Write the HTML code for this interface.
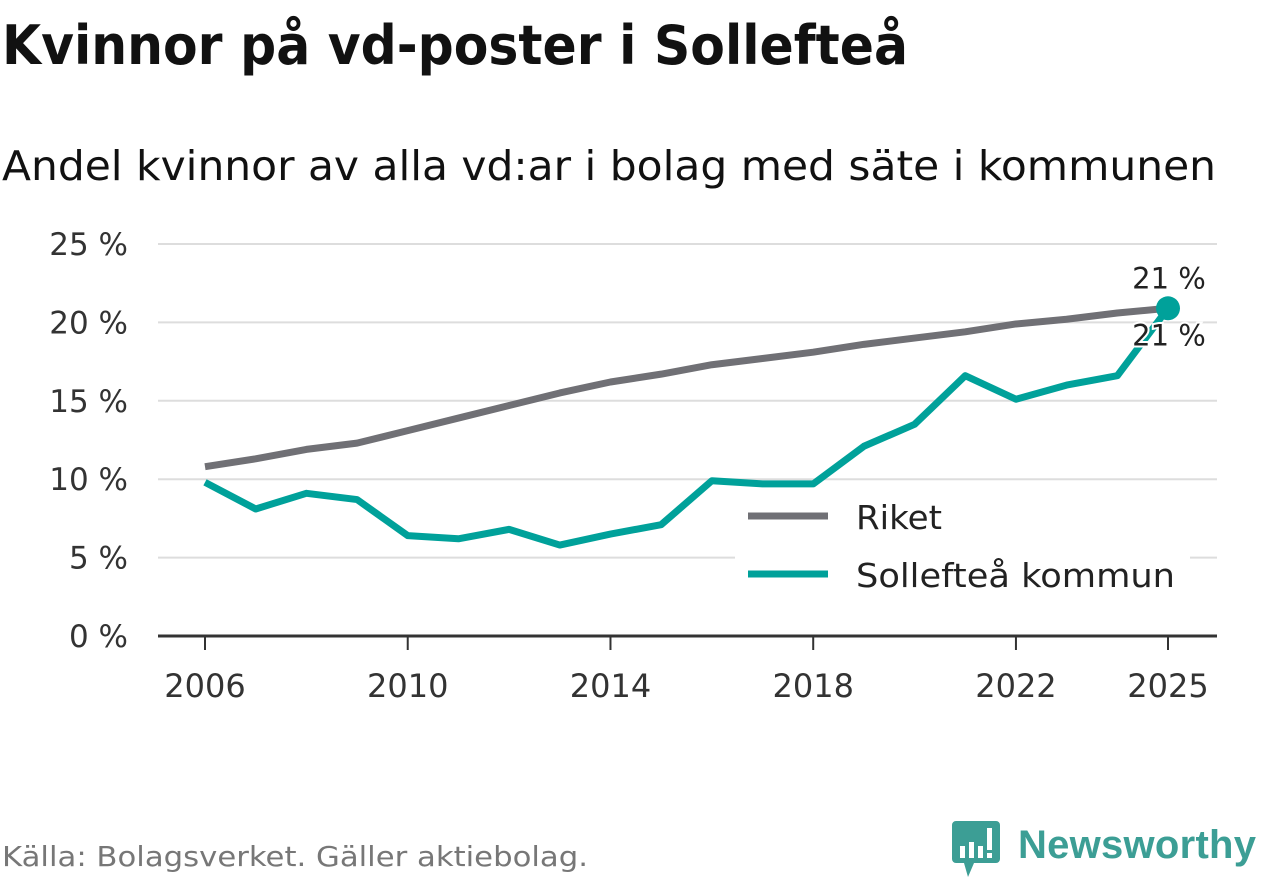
<!DOCTYPE html>
<html><head><meta charset="utf-8"><style>
html,body{margin:0;padding:0;background:#fff;width:1262px;height:879px;overflow:hidden;font-family:"DejaVu Sans","Liberation Sans",sans-serif;}
</style></head><body>
<svg width="1262" height="879" xmlns="http://www.w3.org/2000/svg">
<text x="2" y="64" font-size="54" font-weight="bold" fill="#111" textLength="906" lengthAdjust="spacingAndGlyphs">Kvinnor på vd-poster i Sollefteå</text>
<text x="2" y="180" font-size="41" fill="#111" textLength="1214" lengthAdjust="spacingAndGlyphs">Andel kvinnor av alla vd:ar i bolag med säte i kommunen</text>
<g id="grid"></g><g id="xt"></g><g id="lines"></g>
<g>
<rect x="735" y="492" width="455" height="104" fill="#fff"/>
<line x1="748" y1="516" x2="828" y2="516" stroke="#707075" stroke-width="7"/>
<text x="856" y="529" font-size="33" fill="#222" textLength="86" lengthAdjust="spacingAndGlyphs">Riket</text>
<line x1="748" y1="574" x2="828" y2="574" stroke="#00a19a" stroke-width="7"/>
<text x="856" y="587" font-size="33" fill="#222" textLength="319" lengthAdjust="spacingAndGlyphs">Sollefteå kommun</text>
</g>
<text x="2" y="866" font-size="28" fill="#777" textLength="586" lengthAdjust="spacingAndGlyphs">Källa: Bolagsverket. Gäller aktiebolag.</text>
<g>
<path d="M956 821 h40 a4 4 0 0 1 4 4 v34 a4 4 0 0 1 -4 4 h-22 l-6 14 l-4 -14 h-8 a4 4 0 0 1 -4 -4 v-34 a4 4 0 0 1 4 -4z" fill="#3c9e95"/>
<rect x="960" y="846" width="5" height="12" fill="#fff"/><rect x="969" y="842" width="5" height="16" fill="#fff"/><rect x="978" y="846" width="5" height="12" fill="#fff"/><rect x="987" y="828" width="5" height="22" fill="#fff"/><rect x="987" y="853" width="5" height="5" fill="#fff"/>
<text x="1018" y="858" font-size="40" font-weight="bold" fill="#3c9e95" font-family="Liberation Sans, sans-serif" textLength="238">Newsworthy</text>
</g>
</svg>
<script>
const years=[2006,2007,2008,2009,2010,2011,2012,2013,2014,2015,2016,2017,2018,2019,2020,2021,2022,2023,2024,2025];
const riket=[10.8,11.3,11.9,12.3,13.1,13.9,14.7,15.5,16.2,16.7,17.3,17.7,18.1,18.6,19.0,19.4,19.9,20.2,20.6,20.9];
const solleftea=[9.8,8.1,9.1,8.7,6.4,6.2,6.8,5.8,6.5,7.1,9.9,9.7,9.7,12.1,13.5,16.6,15.1,16.0,16.6,20.9];
const yTicks=[0,5,10,15,20,25];
const xTicks=[2006,2010,2014,2018,2022,2025];
const NS="http://www.w3.org/2000/svg";
const X=y=>205+(y-2006)*(1168-205)/19;
const Y=v=>636-v*15.68;
function mk(t,a,p){const e=document.createElementNS(NS,t);for(const k in a)e.setAttribute(k,a[k]);p.appendChild(e);return e;}
const g=document.getElementById('grid');
yTicks.forEach(v=>{
 if(v>0){const l=mk('line',{x1:158,x2:1217,y1:Y(v),y2:Y(v),stroke:'#ddd','stroke-width':2},g);
 
 }
 const t=mk('text',{x:128,y:Y(v)+11,'font-size':31,fill:'#333','text-anchor':'end'},g);t.textContent=v+' %';
 
 
});
const ax=mk('line',{x1:158,x2:1217,y1:636,y2:636,stroke:'#333','stroke-width':3},g);


const xt=document.getElementById('xt');
xTicks.forEach(y=>{
 mk('line',{x1:X(y),x2:X(y),y1:636,y2:650,stroke:'#333','stroke-width':2},xt);
 const t=mk('text',{x:X(y),y:697,'font-size':32,fill:'#333','text-anchor':'middle'},xt);t.textContent=y;
 
 
});
const lg=document.getElementById('lines');
function line(d,c,n){const p=mk('polyline',{points:d.map((v,i)=>X(years[i])+','+Y(v)).join(' '),fill:'none',stroke:c,'stroke-width':7,'stroke-linejoin':'round'},lg);
 
 }
line(riket,'#707075','line-riket');
line(solleftea,'#00a19a','line-solleftea');
const li=years.length-1;
const dot=mk('circle',{cx:X(years[li]),cy:Y(solleftea[li]),r:12,fill:'#00a19a'},lg);


const l1=mk('text',{x:X(years[li])+1,y:Y(riket[li])-20,'font-size':29,fill:'#222','text-anchor':'middle'},lg);
l1.textContent=Math.round(riket[li])+' %';


const l2=mk('text',{x:X(years[li])+1,y:Y(solleftea[li])+37,'font-size':29,fill:'#222','text-anchor':'middle',stroke:'#fff','stroke-width':4,'paint-order':'stroke'},lg);
l2.textContent=Math.round(solleftea[li])+' %';


</script>
</body></html>
